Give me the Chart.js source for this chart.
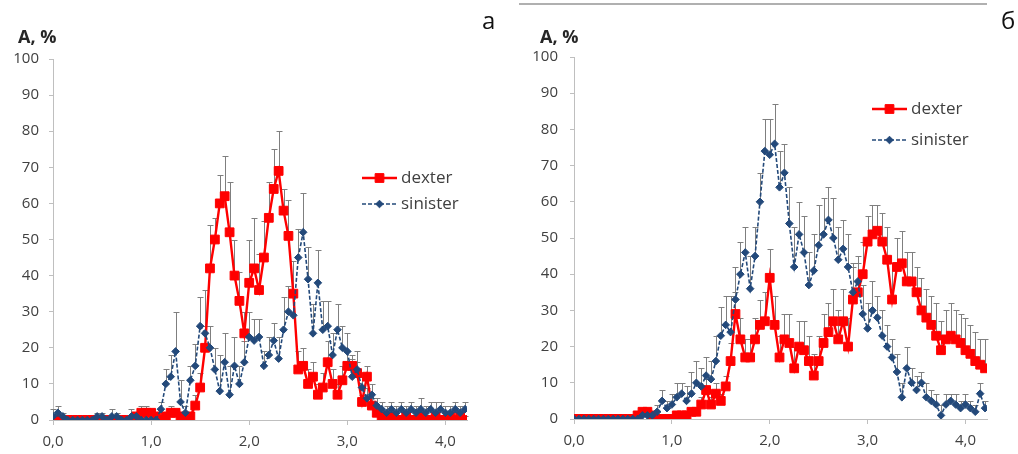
<!DOCTYPE html>
<html><head><meta charset="utf-8">
<script src="https://cdn.jsdelivr.net/npm/chart.js@4"></script>
<style>
body{margin:0;background:#fff;width:1018px;height:454px;overflow:hidden;position:relative;font-family:'Open Sans',sans-serif;}
.wrap{position:absolute;top:0;width:509px;height:454px;}
#wa{left:0}
#wb{left:509px}
.ttl{position:absolute;font-weight:bold;font-size:18px;color:#262626;line-height:1;}
.let{position:absolute;font-size:24px;color:#111;line-height:1;}
.rule{position:absolute;left:519px;width:468px;top:3px;height:2px;background:#b0b0b0}
</style></head>
<body>
<div class="rule"></div>
<div class="wrap" id="wa"><canvas id="ca" width="509" height="454"></canvas></div>
<div class="wrap" id="wb"><canvas id="cb" width="509" height="454"></canvas></div>
<div class="ttl" style="left:18px;top:27px">А, %</div>
<div class="ttl" style="left:540px;top:27px">А, %</div>
<div class="let" style="left:482px;top:8px">а</div>
<div class="let" style="left:1001px;top:8px">б</div>
<script>
// x positions (depth), step 0.05 from 0 to 4.2
const depth = Array.from({length:85},(_,i)=>+(i*0.05).toFixed(2));
const xTickValues = [0,1,2,3,4];
const yTickValues = [0,10,20,30,40,50,60,70,80,90,100];

// Panel а
const dexterA = [0,0,0,0,0,0,0,0,0,0,0,0,0,0,0,0,0,1,2,2,2,1,0,1,2,2,1,0,1,4,9,20,42,50,60,62,52,40,33,24,38,42,36,45,56,64,69,58,51,35,14,15,10,12,7,9,16,10,7,11,15,15,13,5,12,4,2,1,0,1,0,0,1,0,0,1,0,0,1,0,0,1,0,1,0];
const dexterAErr = [0,0,0,0,0,0,0,0,0,0,0,0,0,0,0,0,0,1,2,2,1,1,1,1,2,1,1,0,1,3,4,6,12,6,8,11,14,10,8,6,12,14,10,10,10,11,11,6,10,9,5,5,4,4,3,4,6,4,3,4,4,3,3,2,3,2,1,1,1,1,1,1,1,1,1,1,1,1,1,1,1,1,1,1,1];
const sinisterA = [1,2,1,0,0,0,0,0,0,1,1,0,1,1,0,0,1,1,0,0,0,0,3,10,12,19,5,2,11,15,26,24,20,14,8,16,7,15,10,16,23,22,23,15,18,22,17,25,30,29,45,52,39,24,38,25,26,18,25,20,19,12,14,9,6,7,4,3,2,3,2,3,2,3,2,3,2,3,2,3,2,2,3,2,3];
const sinisterAErr = [2,2,1,0,0,0,0,0,0,1,1,0,2,1,1,0,2,1,1,0,0,0,2,4,6,11,6,2,4,6,8,12,6,6,10,8,8,8,5,6,7,6,5,4,5,5,6,9,7,6,8,11,9,8,9,8,7,6,7,6,5,5,5,3,3,3,2,2,2,2,2,2,2,2,2,3,2,2,3,2,2,2,2,2,2];

// Panel б
const dexterB = [0,0,0,0,0,0,0,0,0,0,0,0,0,1,2,2,1,0,0,0,0,1,1,1,2,2,4,8,4,7,5,9,16,29,22,17,17,22,26,27,39,26,17,22,21,14,20,19,16,12,16,21,24,27,22,27,20,33,35,40,49,51,52,49,44,33,42,43,38,38,35,30,28,26,23,19,22,23,22,21,19,18,16,15,14];
const dexterBErr = [0,0,0,0,0,0,0,0,0,0,0,0,0,1,1,1,1,0,0,0,0,1,1,1,1,1,2,3,2,3,2,3,5,6,6,5,5,6,7,8,8,8,6,7,8,6,7,8,7,6,7,8,8,9,8,9,8,9,8,9,7,8,7,8,9,10,8,9,8,8,7,9,8,8,9,8,8,9,8,8,9,8,8,7,8];
const sinisterB = [0,0,0,0,0,0,0,0,0,0,0,0,0,0,1,1,1,2,5,3,4,6,7,5,7,10,9,12,11,16,23,26,24,33,40,46,36,45,60,74,73,76,64,68,54,42,51,46,37,41,48,51,55,50,44,47,42,35,38,29,25,30,28,23,20,17,13,6,14,10,8,10,6,5,4,1,4,5,4,3,4,3,2,7,3];
const sinisterBErr = [0,0,0,0,0,0,0,0,0,0,0,0,0,1,1,1,1,2,3,2,3,4,3,4,6,6,5,5,5,7,8,8,10,9,9,7,9,8,8,9,10,11,10,8,10,11,9,10,9,10,11,10,9,11,9,8,9,8,7,8,7,8,6,7,6,5,5,4,6,4,4,3,4,3,3,3,3,2,3,2,3,2,2,3,2];

const RED = '#ff0000';
const BLUE = '#23497a';
const AXIS = '#bfbfbf';
const TXT = '#404040';
const FONT = "'Open Sans', sans-serif";

const pts = (vals)=>vals.map((v,i)=>({x:depth[i], y:v}));

const errorBars = {
  id:'errorBars',
  beforeDatasetsDraw(chart){
    const {ctx, scales:{x,y}} = chart;
    ctx.save();
    ctx.strokeStyle = '#7f7f7f';
    ctx.lineWidth = 1;
    chart.data.datasets.forEach(ds=>{
      ds.data.forEach((p,i)=>{
        const e = ds.errors[i];
        if(!e) return;
        const px = Math.round(x.getPixelForValue(p.x)) + 0.5;
        const y0 = y.getPixelForValue(p.y);
        const y1 = Math.round(y.getPixelForValue(p.y + e)) + 0.5;
        ctx.beginPath();
        ctx.moveTo(px, y0); ctx.lineTo(px, y1);
        ctx.moveTo(px - 3, y1); ctx.lineTo(px + 3, y1);
        ctx.stroke();
      });
    });
    ctx.restore();
  }
};

const legendPlugin = {
  id:'customLegend',
  afterDraw(chart, args, opts){
    const ctx = chart.ctx;
    ctx.save();
    const items = [
      {ds: chart.data.datasets.find(d=>d.label==='dexter'), y: opts.y1},
      {ds: chart.data.datasets.find(d=>d.label==='sinister'), y: opts.y2}
    ];
    items.forEach(it=>{
      const ds = it.ds;
      const cx = opts.x + 17.5;
      ctx.strokeStyle = ds.borderColor;
      ctx.lineWidth = ds.borderWidth;
      ctx.setLineDash(ds.borderDash || []);
      ctx.beginPath();
      ctx.moveTo(opts.x, it.y); ctx.lineTo(opts.x + 35, it.y);
      ctx.stroke();
      ctx.setLineDash([]);
      ctx.fillStyle = ds.pointBackgroundColor;
      ctx.strokeStyle = ds.pointBorderColor;
      ctx.lineWidth = 1;
      ctx.beginPath();
      const r = ds.pointRadius;
      if (ds.pointStyle === 'rect') {
        const s = Math.SQRT1_2 * r;
        ctx.rect(cx - s, it.y - s, 2*s, 2*s);
      } else {
        ctx.moveTo(cx, it.y - r); ctx.lineTo(cx + r, it.y);
        ctx.lineTo(cx, it.y + r); ctx.lineTo(cx - r, it.y); ctx.closePath();
      }
      ctx.fill(); ctx.stroke();
      ctx.fillStyle = TXT;
      ctx.font = "17px " + FONT;
      ctx.textBaseline = 'middle';
      ctx.textAlign = 'left';
      ctx.fillText(ds.label, opts.x + 39, it.y);
    });
    ctx.restore();
  }
};

function makeChart(id, dex, dexErr, sin, sinErr, geo){
  return new Chart(document.getElementById(id), {
    type:'line',
    data:{
      datasets:[
        {label:'sinister', data:pts(sin), errors:sinErr, borderColor:BLUE, borderWidth:1.6, borderDash:[4,2],
         pointStyle:'rectRot', pointRadius:3.8, pointBackgroundColor:BLUE, pointBorderColor:BLUE, pointBorderWidth:1, tension:0},
        {label:'dexter', data:pts(dex), errors:dexErr, borderColor:RED, borderWidth:2.4,
         pointStyle:'rect', pointRadius:6.2, pointBackgroundColor:RED, pointBorderColor:RED, pointBorderWidth:1, tension:0}
      ]
    },
    options:{
      responsive:false, animation:false,
      layout:{padding:{left:0, right:geo.right, top:geo.top, bottom:geo.bottom}},
      plugins:{legend:{display:false}, tooltip:{enabled:false},
        customLegend:{x:geo.lx, y1:geo.ly1, y2:geo.ly2}},
      scales:{
        x:{type:'linear', min:0, max:4.22,
           afterBuildTicks(s){ s.ticks = xTickValues.map(v=>({value:v})); },
           afterFit(s){ s.height = 30; },
           border:{color:AXIS, width:1},
           grid:{drawOnChartArea:false, drawTicks:true, tickLength:5, color:AXIS},
           ticks:{padding:8, color:TXT, font:{family:FONT, size:15}, maxRotation:0,
             callback:(v)=>Number(v).toFixed(1).replace('.',',')}},
        y:{type:'linear', min:0, max:100,
           afterBuildTicks(s){ s.ticks = yTickValues.map(v=>({value:v})); },
           afterFit(s){ s.width = geo.left; },
           border:{color:AXIS, width:1},
           grid:{drawOnChartArea:false, drawTicks:true, tickLength:4, color:AXIS},
           ticks:{padding:geo.ypad, color:TXT, font:{family:FONT, size:15}}}
      }
    },
    plugins:[errorBars, legendPlugin]
  });
}

makeChart('ca', dexterA, dexterAErr, sinisterA, sinisterAErr,
  {left:53, right:42, top:59, bottom:4, ypad:10, lx:362, ly1:178, ly2:204});
makeChart('cb', dexterB, dexterBErr, sinisterB, sinisterBErr,
  {left:65, right:31, top:57, bottom:5, ypad:12, lx:363, ly1:109, ly2:140});
</script>
</body></html>
